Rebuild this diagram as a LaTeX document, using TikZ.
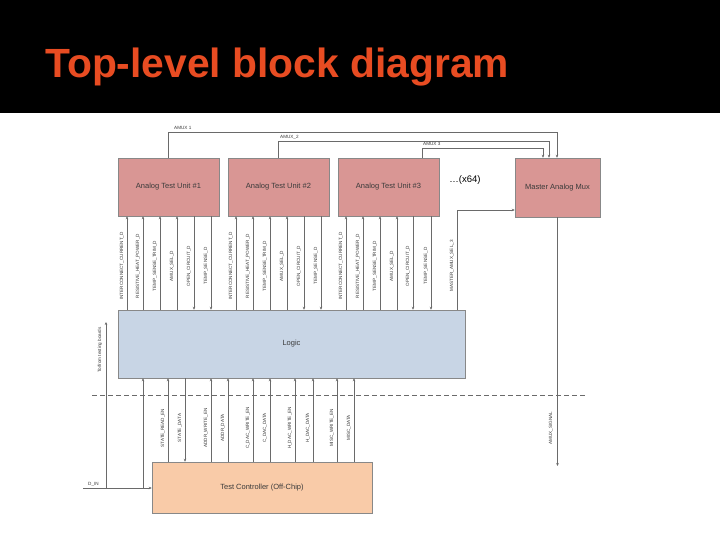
\documentclass[tikz,border=0pt]{standalone}
\usepackage{fontspec}
\setmainfont{Liberation Sans}
\usetikzlibrary{arrows.meta}
\definecolor{titlec}{HTML}{E84C22}
\definecolor{unitc}{HTML}{D99694}
\definecolor{logicc}{HTML}{C8D5E5}
\definecolor{tcc}{HTML}{F9CBA8}
\definecolor{linec}{HTML}{6A6A6A}
\definecolor{txtc}{HTML}{3A3A3A}
\tikzset{
  blk/.style={draw=linec!80, line width=0.5pt, inner sep=0pt, text=txtc, font=\fontsize{7.5}{8}\selectfont},
  unitbox/.style={blk, fill=unitc, minimum width=101pt, minimum height=58pt},
  arr/.style={draw=linec, line width=0.6pt, -{Stealth[length=3pt,width=2.6pt]}},
  wire/.style={draw=linec, line width=0.6pt},
  sig/.style={rotate=90, text=txtc, inner sep=0pt, font=\fontsize{4.6}{5}\selectfont},
  amx/.style={text=txtc, inner sep=0pt, font=\fontsize{4.6}{5}\selectfont, anchor=base west}
}
\begin{document}
\begin{tikzpicture}[x=1pt,y=-1pt]
\useasboundingbox (0,0) rectangle (720,540);
\fill[white] (0,0) rectangle (720,540);
\fill[black] (0,0) rectangle (720,113);
\node[anchor=base west, inner sep=0pt, text=titlec, font=\fontsize{40.8}{44}\selectfont\bfseries] (title) at (45,78) {Top-level block diagram};

% blocks
\node[unitbox] (u1) at (168.5,187) {Analog Test Unit \#1};
\node[unitbox] (u2) at (278.5,187) {Analog Test Unit \#2};
\node[unitbox] (u3) at (388.5,187) {Analog Test Unit \#3};
\node[blk, fill=unitc, minimum width=85pt, minimum height=59pt] (master) at (557.5,187.5) {Master Analog Mux};
\node[inner sep=0pt, font=\fontsize{9.5}{10}\selectfont] (dots) at (465,180) {\dots(x64)};
\node[blk, fill=logicc, minimum width=347pt, minimum height=68pt] (logic) at (291.5,344) {Logic};
\node[blk, fill=tcc, minimum width=220pt, minimum height=51pt] (tc) at (262,487.5) {Test Controller (Off-Chip)};

% AMUX lines
\draw[arr] (u1.north) -- ++(0,-25) -| ([xshift=-0.5pt]master.north);
\draw[arr] (u2.north) -- ++(0,-16) -| ([xshift=-8.5pt]master.north);
\draw[arr] ([xshift=33.5pt]u3.north) -- ++(0,-9) -| ([xshift=-14.5pt]master.north);
\node[amx] (l1) at (174,130) {AMUX 1};
\node[amx] (l2) at (280,139) {AMUX\_2};
\node[amx] (l3) at (423,146) {AMUX 3};

% unit <-> logic
\foreach \x/\t in {127/INTERCONNECT\_CURRENT\_D,143/RESISTIVE\_HEAT\_POWER\_D,160/TEMP\_SENSE\_TRIM\_D,177/AMUX\_SEL\_D}
  {\draw[arr] (logic.north -| \x,0) -- (u1.south -| \x,0);
   \node[sig] at (\x-5,266) {\t};}
\foreach \x/\t in {194/OPEN\_CIRCUIT\_D,211/TEMP\_SENSE\_D}
  {\draw[arr] (u1.south -| \x,0) -- (logic.north -| \x,0);
   \node[sig] at (\x-5,266) {\t};}
\foreach \x/\t in {236/INTERCONNECT\_CURRENT\_D,253/RESISTIVE\_HEAT\_POWER\_D,270/TEMP\_SENSE\_TRIM\_D,287/AMUX\_SEL\_D}
  {\draw[arr] (logic.north -| \x,0) -- (u2.south -| \x,0);
   \node[sig] at (\x-5,266) {\t};}
\foreach \x/\t in {304/OPEN\_CIRCUIT\_D,321/TEMP\_SENSE\_D}
  {\draw[arr] (u2.south -| \x,0) -- (logic.north -| \x,0);
   \node[sig] at (\x-5,266) {\t};}
\foreach \x/\t in {346/INTERCONNECT\_CURRENT\_D,363/RESISTIVE\_HEAT\_POWER\_D,380/TEMP\_SENSE\_TRIM\_D,397/AMUX\_SEL\_D}
  {\draw[arr] (logic.north -| \x,0) -- (u3.south -| \x,0);
   \node[sig] at (\x-5,266) {\t};}
\foreach \x/\t in {413/OPEN\_CIRCUIT\_D,431/TEMP\_SENSE\_D}
  {\draw[arr] (u3.south -| \x,0) -- (logic.north -| \x,0);
   \node[sig] at (\x-5,266) {\t};}
\draw[arr] (logic.north -| 457,0) |- ([yshift=-22.5pt]master.west);
\node[sig] at (452,266) {MASTER\_AMUX\_SEL\_3};

% master output
\coordinate (aout) at (557.5,466);
\draw[arr] (master.south) -- (aout);
\node[sig] at (551,428) {AMUX\_SIGNAL};

% dashed boundary
\draw[linec, line width=0.6pt, dash pattern=on 5pt off 3pt] (92,395) -- (585,395);

% logic <-> test controller
\foreach \x/\t in {168/STATE\_READ\_EN,211/ADDR\_WRITE\_EN,228/ADDR\_DATA,253/C\_DAC\_WRITE\_EN,270/C\_DAC\_DATA,295/H\_DAC\_WRITE\_EN,313/H\_DAC\_DATA,337/MISC\_WRITE\_EN,354/MISC\_DATA}
  {\draw[arr] (tc.north -| \x,0) -- (logic.south -| \x,0);
   \node[sig] at (\x-5,428) {\t};}
\draw[arr] (logic.south -| 185,0) -- (tc.north -| 185,0);
\node[sig] at (180,428) {STATE\_DATA};

% D_IN
\coordinate (din) at (83,488);
\coordinate (tb) at (106,322);
\draw[arr] (din) -- (tc.west |- din);
\draw[arr] (din -| 143,0) -- (logic.south -| 143,0);
\draw[arr] (din -| tb) -- (tb);
\node[amx] (dl) at (88,485) {D\_IN};
\node[sig] at (100,350) {To/from testing boards};
\end{tikzpicture}
\end{document}
